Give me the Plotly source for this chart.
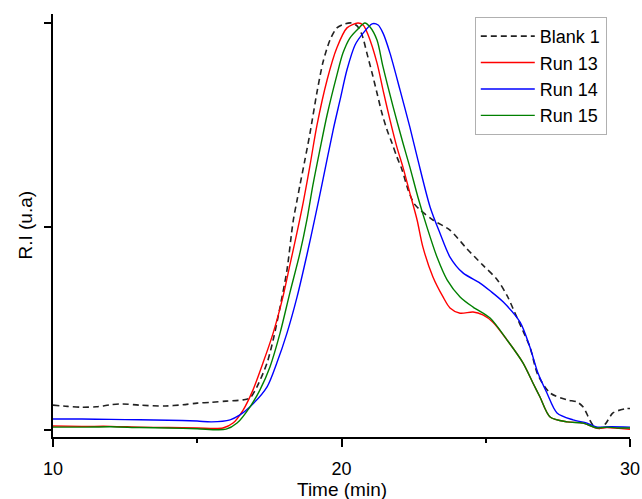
import plotly.graph_objects as go

# ---- data ----
blank_t = [10.0, 10.5, 11.0, 11.5, 12.0, 12.4, 13.0, 13.9, 14.5, 15.0, 15.5, 16.0, 16.59, 16.83,
           17.07, 17.42, 17.63, 17.87, 18.11, 18.32, 18.46, 18.56, 18.73, 18.91, 19.15, 19.36,
           19.60, 19.84, 20.12, 20.35, 20.54, 20.71, 20.88, 21.06, 21.23, 21.40, 21.58, 21.75,
           21.92, 22.10, 22.31, 22.51, 22.72, 23.17, 23.76, 24.35, 24.90, 25.39, 25.74, 26.12,
           26.53, 26.81, 27.23, 27.82, 28.16, 28.37, 28.72, 28.95, 29.15, 29.41, 29.83, 30.0]
blank_v = [0.061, 0.058, 0.056, 0.057, 0.062, 0.064, 0.061, 0.059, 0.062, 0.066, 0.068, 0.071,
           0.074, 0.079, 0.106, 0.165, 0.221, 0.302, 0.393, 0.511, 0.565, 0.602, 0.663, 0.730,
           0.830, 0.904, 0.958, 0.988, 0.998, 1.0, 0.993, 0.971, 0.926, 0.877, 0.828, 0.779,
           0.737, 0.705, 0.671, 0.639, 0.590, 0.557, 0.541, 0.516, 0.491, 0.445, 0.405, 0.370,
           0.330, 0.270, 0.204, 0.135, 0.091, 0.074, 0.069, 0.057, 0.012, 0.004, 0.015, 0.042,
           0.052, 0.053]

run13_t = [10.0, 11.0, 12.0, 13.0, 14.0, 15.0, 15.89, 16.24, 16.59, 16.93, 17.28, 17.63, 17.97,
           18.21, 18.46, 18.67, 18.91, 19.15, 19.50, 19.84, 20.19, 20.57, 20.75, 20.92, 21.23,
           21.44, 21.68, 21.92, 22.13, 22.37, 22.62, 22.82, 23.17, 23.52, 23.76, 24.11, 24.56,
           24.90, 25.25, 25.74, 26.29, 26.64, 26.88, 27.23, 27.82, 28.37, 28.86, 29.20, 29.60, 30.0]
run13_v = [0.010, 0.009, 0.009, 0.007, 0.006, 0.005, 0.005, 0.017, 0.049, 0.098, 0.165, 0.238,
           0.327, 0.405, 0.486, 0.558, 0.651, 0.749, 0.860, 0.939, 0.988, 1.0, 0.995, 0.971,
           0.902, 0.835, 0.762, 0.695, 0.646, 0.582, 0.516, 0.450, 0.376, 0.327, 0.300, 0.287,
           0.290, 0.283, 0.265, 0.221, 0.165, 0.115, 0.081, 0.032, 0.020, 0.017, 0.004, 0.006,
           0.004, 0.002]

run14_t = [10.0, 11.0, 12.0, 13.0, 14.0, 15.0, 15.5, 16.14, 16.48, 16.83, 17.42, 17.76, 18.11,
           18.46, 18.80, 19.08, 19.32, 19.71, 19.95, 20.19, 20.47, 20.75, 21.06, 21.27, 21.44,
           21.68, 22.03, 22.37, 22.65, 23.07, 23.41, 23.76, 24.21, 24.80, 25.15, 25.60,
           26.19, 26.53, 26.81, 27.12, 27.47, 28.02, 28.51, 28.86, 29.31, 30.0]
run14_v = [0.027, 0.027, 0.026, 0.025, 0.024, 0.022, 0.020, 0.025, 0.037, 0.057, 0.106, 0.165,
           0.238, 0.327, 0.430, 0.521, 0.602, 0.737, 0.811, 0.885, 0.946, 0.975, 0.998, 0.995,
           0.975, 0.926, 0.835, 0.744, 0.663, 0.548, 0.484, 0.425, 0.386, 0.361, 0.342, 0.315,
           0.265, 0.204, 0.140, 0.091, 0.042, 0.025, 0.017, 0.007, 0.008, 0.007]

run15_t = [10.0, 11.0, 12.0, 13.0, 14.0, 15.0, 16.0, 16.38, 16.83, 17.17, 17.52, 17.87, 18.21,
           18.56, 18.80, 19.01, 19.25, 19.50, 19.84, 20.05, 20.29, 20.54, 20.81, 20.99, 21.23,
           21.44, 21.79, 22.13, 22.37, 22.65, 22.96, 23.31, 23.66, 24.11, 24.56, 25.15, 25.74,
           26.29, 26.64, 26.88, 27.23, 27.82, 28.37, 28.86, 29.20, 29.60, 30.0]
run15_v = [0.007, 0.007, 0.008, 0.006, 0.005, 0.003, 0.002, 0.017, 0.057, 0.098, 0.155, 0.238,
           0.337, 0.435, 0.516, 0.602, 0.688, 0.774, 0.872, 0.926, 0.963, 0.983, 1.0, 0.990,
           0.958, 0.892, 0.794, 0.705, 0.646, 0.572, 0.499, 0.425, 0.369, 0.327, 0.302, 0.275,
           0.221, 0.165, 0.115, 0.081, 0.032, 0.020, 0.017, 0.005, 0.007, 0.005, 0.005]

series_names = ["Blank 1", "Run 13", "Run 14", "Run 15"]
x_ticks = [10, 20, 30]
x_tick_labels = ["10", "20", "30"]
y_ticks = [0, 0.5, 1.0]
x_title = "Time (min)"
y_title = "R.I (u.a)"

FONT = "Liberation Sans, Arial, sans-serif"

fig = go.Figure()
fig.add_trace(go.Scatter(x=blank_t, y=blank_v, name=series_names[0], mode="lines",
                         line=dict(color="#222222", width=1.6, dash="6px,4px",
                                   shape="spline", smoothing=0.8)))
fig.add_trace(go.Scatter(x=run13_t, y=run13_v, name=series_names[1], mode="lines",
                         line=dict(color="#ff0000", width=1.4, shape="spline", smoothing=0.8)))
fig.add_trace(go.Scatter(x=run14_t, y=run14_v, name=series_names[2], mode="lines",
                         line=dict(color="#0000ff", width=1.4, shape="spline", smoothing=0.8)))
fig.add_trace(go.Scatter(x=run15_t, y=run15_v, name=series_names[3], mode="lines",
                         line=dict(color="#008000", width=1.4, shape="spline", smoothing=0.8)))

fig.update_layout(
    width=642, height=499,
    margin=dict(l=53, r=12, t=14, b=62, autoexpand=False),
    paper_bgcolor="white", plot_bgcolor="white",
    font=dict(family=FONT, size=18, color="black"),
    showlegend=True,
    legend=dict(x=0.731, y=0.993, xanchor="left", yanchor="top",
                bgcolor="white", bordercolor="#b0b0b0", borderwidth=1,
                font=dict(family=FONT, size=18, color="black"),
                tracegroupgap=0, itemwidth=54),
    annotations=[
        dict(text=x_title, xref="paper", yref="paper", x=0.5, y=-0.125,
             xanchor="center", yanchor="middle", showarrow=False,
             font=dict(family=FONT, size=19, color="black")),
        dict(text=y_title, xref="paper", yref="paper", x=-0.0485, y=0.5,
             xanchor="center", yanchor="middle", showarrow=False, textangle=-90,
             font=dict(family=FONT, size=19, color="black")),
    ],
)
fig.update_xaxes(
    range=[10, 30], tickvals=x_ticks, ticktext=x_tick_labels, automargin=False,
    showgrid=False, zeroline=False,
    showline=True, linecolor="black", linewidth=1.5,
    ticks="outside", ticklen=8, tickwidth=1.5, tickcolor="black",
    minor=dict(dtick=5, tick0=10, ticks="outside", ticklen=4, tickwidth=1.5, tickcolor="black"),
    ticklabelstandoff=7,
    tickfont=dict(family=FONT, size=18, color="black"),
)
fig.update_yaxes(
    range=[-0.0172, 1.0221], tickvals=y_ticks, showticklabels=False, automargin=False,
    showgrid=False, zeroline=False,
    showline=True, linecolor="black", linewidth=1.5,
    ticks="outside", ticklen=7, tickwidth=1.5, tickcolor="black",
)

# remove the default 8px page margin so the 642x499 figure fills the window exactly
fig.write_html("out.html",
               config={"displayModeBar": False},
               post_script="document.body.style.margin='0';document.body.style.overflow='hidden';")
